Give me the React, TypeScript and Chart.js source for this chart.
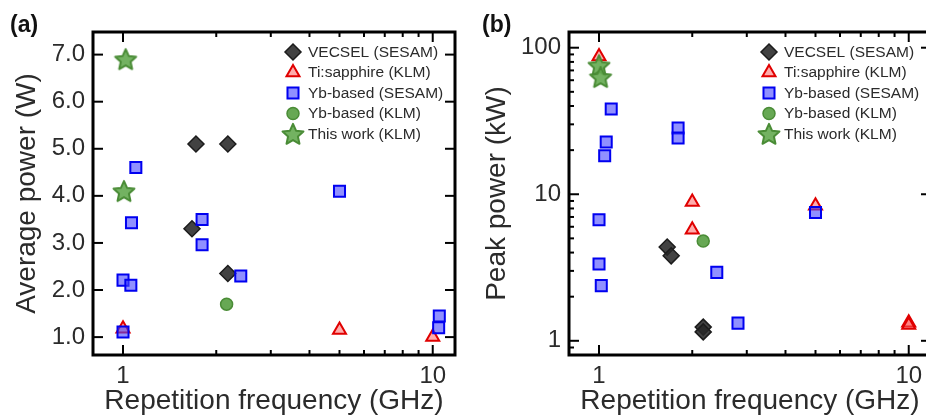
import React, { useEffect, useRef } from "react";
import { Chart, registerables } from "chart.js";

Chart.register(...registerables);

const FONT = '"Liberation Sans", Arial, Helvetica, sans-serif';
const TEXT = "#2b2b2b";

// ---------- legend / series names ----------
const seriesNames = [
  "VECSEL (SESAM)",
  "Ti:sapphire (KLM)",
  "Yb-based (SESAM)",
  "Yb-based (KLM)",
  "This work (KLM)",
];
const panelLabels = ["(a)", "(b)"];
const xTitle = "Repetition frequency (GHz)";
const yTitleA = "Average power (W)";
const yTitleB = "Peak power (kW)";

// ---------- panel (a): average power (W) ----------
const vecselAx = [1.72, 2.18, 1.67, 2.18];
const vecselAy = [5.1, 5.1, 3.3, 2.35];
const tiAx = [1.0, 5.0, 10.0];
const tiAy = [1.18, 1.15, 1.0];
const ybSesamAx = [1.1, 1.065, 1.0, 1.06, 1.0, 1.8, 1.8, 2.4, 5.0, 10.5, 10.45];
const ybSesamAy = [4.6, 3.43, 2.21, 2.1, 1.11, 3.5, 2.96, 2.3, 4.1, 1.45, 1.2];
const ybKlmAx = [2.16];
const ybKlmAy = [1.7];
const thisWorkAx = [1.02, 1.007];
const thisWorkAy = [6.9, 4.1];

// ---------- panel (b): peak power (kW) ----------
const vecselBx = [1.66, 1.71, 2.17, 2.17];
const vecselBy = [4.36, 3.8, 1.24, 1.15];
const tiBx = [1.0, 2.0, 2.0, 5.0, 10.0, 10.0];
const tiBy = [87, 8.85, 5.72, 8.35, 1.33, 1.28];
const ybSesamBx = [1.095, 1.055, 1.043, 1.8, 1.8, 1.0, 1.0, 1.017, 2.4, 2.81, 5.0];
const ybSesamBy = [38.2, 22.7, 18.3, 28.3, 24.2, 6.7, 3.34, 2.38, 2.93, 1.32, 7.5];
const ybKlmBx = [2.17];
const ybKlmBy = [4.79];
const thisWorkBx = [1.0, 1.012];
const thisWorkBy = [75.7, 63];

// ---------- axes ----------
const xRange = [0.8, 11.8];
const yRangeA = [0.62, 7.48];
const yRangeB = [0.8, 128];
const xMajorTicks = [1, 10];
const xMinorTicks = [2, 3, 4, 5, 6, 7, 8, 9];
const yMajorTicksA = [1, 2, 3, 4, 5, 6, 7];
const yMinorTicksA: number[] = [];
const yMajorTicksB = [1, 10, 100];
const yMinorTicksB = [0.9, 2, 3, 4, 5, 6, 7, 8, 9, 20, 30, 40, 50, 60, 70, 80, 90];

// ---------- marker styles ----------
function makeStar(r: number, fill: string, stroke: string, lw: number) {
  const size = Math.ceil(2 * r + lw + 2);
  const c = document.createElement("canvas");
  c.width = size;
  c.height = size;
  const ctx = c.getContext("2d")!;
  ctx.translate(size / 2, size / 2 + r * 0.08);
  ctx.beginPath();
  for (let i = 0; i < 10; i++) {
    const rad = i % 2 === 0 ? r : r * 0.47;
    const a = -Math.PI / 2 + (i * Math.PI) / 5;
    ctx.lineTo(rad * Math.cos(a), rad * Math.sin(a));
  }
  ctx.closePath();
  ctx.fillStyle = fill;
  ctx.fill();
  ctx.lineJoin = "round";
  ctx.lineWidth = lw;
  ctx.strokeStyle = stroke;
  ctx.stroke();
  return c;
}

type Style = {
  pointStyle: any;
  radius: number;
  bg: string;
  border: string;
  bw: number;
};

function makeStyles(): Style[] {
  const star = makeStar(11, "rgba(100,170,80,0.9)", "#4a8c36", 2);
  return [
    { pointStyle: "rectRot", radius: 8, bg: "rgba(40,40,40,0.88)", border: "#1c1c1c", bw: 1.5 },
    { pointStyle: "triangle", radius: 7.5, bg: "rgba(255,90,90,0.5)", border: "#e00000", bw: 2 },
    { pointStyle: "rect", radius: 7.8, bg: "rgba(70,70,255,0.6)", border: "#0000f0", bw: 2 },
    { pointStyle: "circle", radius: 6, bg: "#67a854", border: "#4a8c36", bw: 1.5 },
    { pointStyle: star, radius: 10, bg: "#67a854", border: "#4a8c36", bw: 2 },
  ];
}

function drawMarker(ctx: CanvasRenderingContext2D, s: Style, x: number, y: number) {
  ctx.save();
  if (typeof s.pointStyle !== "string") {
    const img = s.pointStyle as HTMLCanvasElement;
    ctx.drawImage(img, x - img.width / 2, y - img.height / 2);
    ctx.restore();
    return;
  }
  const r = s.radius;
  ctx.beginPath();
  if (s.pointStyle === "rectRot") {
    ctx.moveTo(x, y - r);
    ctx.lineTo(x + r, y);
    ctx.lineTo(x, y + r);
    ctx.lineTo(x - r, y);
    ctx.closePath();
  } else if (s.pointStyle === "triangle") {
    for (let i = 0; i < 3; i++) {
      const a = (i * 2 * Math.PI) / 3;
      ctx.lineTo(x + Math.sin(a) * r, y - Math.cos(a) * r);
    }
    ctx.closePath();
  } else if (s.pointStyle === "rect") {
    const h = Math.SQRT1_2 * r;
    ctx.rect(x - h, y - h, 2 * h, 2 * h);
  } else {
    ctx.arc(x, y, r, 0, Math.PI * 2);
  }
  ctx.fillStyle = s.bg;
  ctx.fill();
  ctx.lineWidth = s.bw;
  ctx.strokeStyle = s.border;
  ctx.stroke();
  ctx.restore();
}

type PanelCfg = {
  label: string;
  labelX: number;
  yTitle: string;
  yTitlePad: number;
  yType: "linear" | "logarithmic";
  yRange: number[];
  yMajor: number[];
  yMinor: number[];
  yFmt: (v: number) => string;
  yWidth: number;
  padRight: number;
  series: { x: number[]; y: number[] }[];
};

function makeFramePlugin(cfg: PanelCfg, styles: Style[]) {
  return {
    id: "frame",
    beforeDatasetsDraw(chart: any) {
      const { ctx, chartArea } = chart;
      const { left, right, top, bottom } = chartArea;
      const xs = chart.scales.x;
      const ys = chart.scales.y;
      ctx.save();
      ctx.strokeStyle = "#000";
      ctx.lineWidth = 2;
      const line = (x1: number, y1: number, x2: number, y2: number) => {
        ctx.beginPath();
        ctx.moveTo(x1, y1);
        ctx.lineTo(x2, y2);
        ctx.stroke();
      };
      const xt = (vals: number[], len: number) => {
        for (const v of vals) {
          const p = xs.getPixelForValue(v);
          line(p, bottom, p, bottom - len);
          line(p, top, p, top + len);
        }
      };
      const yt = (vals: number[], len: number) => {
        for (const v of vals) {
          const p = ys.getPixelForValue(v);
          line(left, p, left + len, p);
          line(right, p, right - len, p);
        }
      };
      xt(xMajorTicks, 10);
      xt(xMinorTicks, 5);
      yt(cfg.yMajor, 10);
      yt(cfg.yMinor, 5);
      ctx.lineWidth = 3;
      ctx.strokeRect(left, top, right - left, bottom - top);
      ctx.restore();
    },
    afterDraw(chart: any) {
      const { ctx, chartArea } = chart;
      ctx.save();
      ctx.fillStyle = "#111";
      ctx.font = `bold 23px ${FONT}`;
      ctx.textBaseline = "alphabetic";
      ctx.textAlign = "left";
      ctx.fillText(cfg.label, cfg.labelX, 32);
      // legend
      const mx = chartArea.left + 200;
      const tx = chartArea.left + 215;
      ctx.font = `15.5px ${FONT}`;
      ctx.fillStyle = TEXT;
      ctx.textBaseline = "middle";
      seriesNames.forEach((name, i) => {
        const y = chartArea.top + 20 + i * 20.5;
        drawMarker(ctx, styles[i], mx, y);
        ctx.fillText(name, tx, y + 0.5);
      });
      ctx.restore();
    },
  };
}

function buildConfig(cfg: PanelCfg) {
  const styles = makeStyles();
  const drawOrder = [4, 3, 1, 2, 0];
  const datasets = cfg.series.map((s, i) => ({
    label: seriesNames[i],
    data: s.x.map((xv, j) => ({ x: xv, y: s.y[j] })),
    pointStyle: styles[i].pointStyle,
    pointRadius: styles[i].radius,
    backgroundColor: styles[i].bg,
    borderColor: styles[i].border,
    borderWidth: styles[i].bw,
    order: drawOrder[i],
    showLine: false,
  }));
  return {
    type: "scatter" as const,
    data: { datasets },
    options: {
      responsive: false,
      animation: false as const,
      events: [] as any[],
      layout: { padding: { top: 32, right: cfg.padRight, left: 0, bottom: 0 } },
      plugins: {
        legend: { display: false },
        tooltip: { enabled: false },
      },
      scales: {
        x: {
          type: "logarithmic" as const,
          min: xRange[0],
          max: xRange[1],
          afterBuildTicks: (s: any) => {
            s.ticks = xMajorTicks.map((v) => ({ value: v }));
          },
          afterFit: (s: any) => {
            s.height = 63;
          },
          grid: { display: false, drawTicks: false },
          border: { display: false },
          ticks: {
            padding: 7,
            color: TEXT,
            font: { family: FONT, size: 24 },
            autoSkip: false,
            maxRotation: 0,
            callback: (v: any) => String(v),
          },
          title: {
            display: true,
            text: xTitle,
            color: TEXT,
            font: { family: FONT, size: 28 },
            padding: { top: 0, bottom: 0 },
          },
        },
        y: {
          type: cfg.yType,
          min: cfg.yRange[0],
          max: cfg.yRange[1],
          afterBuildTicks: (s: any) => {
            s.ticks = cfg.yMajor.map((v) => ({ value: v }));
          },
          afterFit: (s: any) => {
            s.width = cfg.yWidth;
          },
          grid: { display: false, drawTicks: false },
          border: { display: false },
          ticks: {
            padding: 8,
            color: TEXT,
            font: { family: FONT, size: 24 },
            autoSkip: false,
            callback: (v: any) => cfg.yFmt(Number(v)),
          },
          title: {
            display: true,
            text: cfg.yTitle,
            color: TEXT,
            font: { family: FONT, size: 28 },
            padding: { top: cfg.yTitlePad, bottom: 0 },
          },
        },
      },
    },
    plugins: [makeFramePlugin(cfg, styles)],
  };
}

const panelA: PanelCfg = {
  label: panelLabels[0],
  labelX: 10,
  yTitle: yTitleA,
  yTitlePad: 10.5,
  yType: "linear",
  yRange: yRangeA,
  yMajor: yMajorTicksA,
  yMinor: yMinorTicksA,
  yFmt: (v) => v.toFixed(1),
  yWidth: 93,
  padRight: 15,
  series: [
    { x: vecselAx, y: vecselAy },
    { x: tiAx, y: tiAy },
    { x: ybSesamAx, y: ybSesamAy },
    { x: ybKlmAx, y: ybKlmAy },
    { x: thisWorkAx, y: thisWorkAy },
  ],
};

const panelB: PanelCfg = {
  label: panelLabels[1],
  labelX: 19,
  yTitle: yTitleB,
  yTitlePad: 17,
  yType: "logarithmic",
  yRange: yRangeB,
  yMajor: yMajorTicksB,
  yMinor: yMinorTicksB,
  yFmt: (v) => String(v),
  yWidth: 106,
  padRight: 12,
  series: [
    { x: vecselBx, y: vecselBy },
    { x: tiBx, y: tiBy },
    { x: ybSesamBx, y: ybSesamBy },
    { x: ybKlmBx, y: ybKlmBy },
    { x: thisWorkBx, y: thisWorkBy },
  ],
};

function Panel({ cfg, left, width }: { cfg: PanelCfg; left: number; width: number }) {
  const ref = useRef<HTMLCanvasElement>(null);
  useEffect(() => {
    const chart = new Chart(ref.current as HTMLCanvasElement, buildConfig(cfg) as any);
    return () => chart.destroy();
  }, []);
  return (
    <canvas
      ref={ref}
      width={width}
      height={418}
      style={{ position: "absolute", left, top: 0, width, height: 418 }}
    />
  );
}

export default function App() {
  return (
    <div
      style={{
        position: "fixed",
        left: 0,
        top: 0,
        width: 926,
        height: 418,
        overflow: "hidden",
        background: "#fff",
      }}
    >
      <Panel cfg={panelA} left={0} width={470} />
      <Panel cfg={panelB} left={463} width={480} />
    </div>
  );
}
